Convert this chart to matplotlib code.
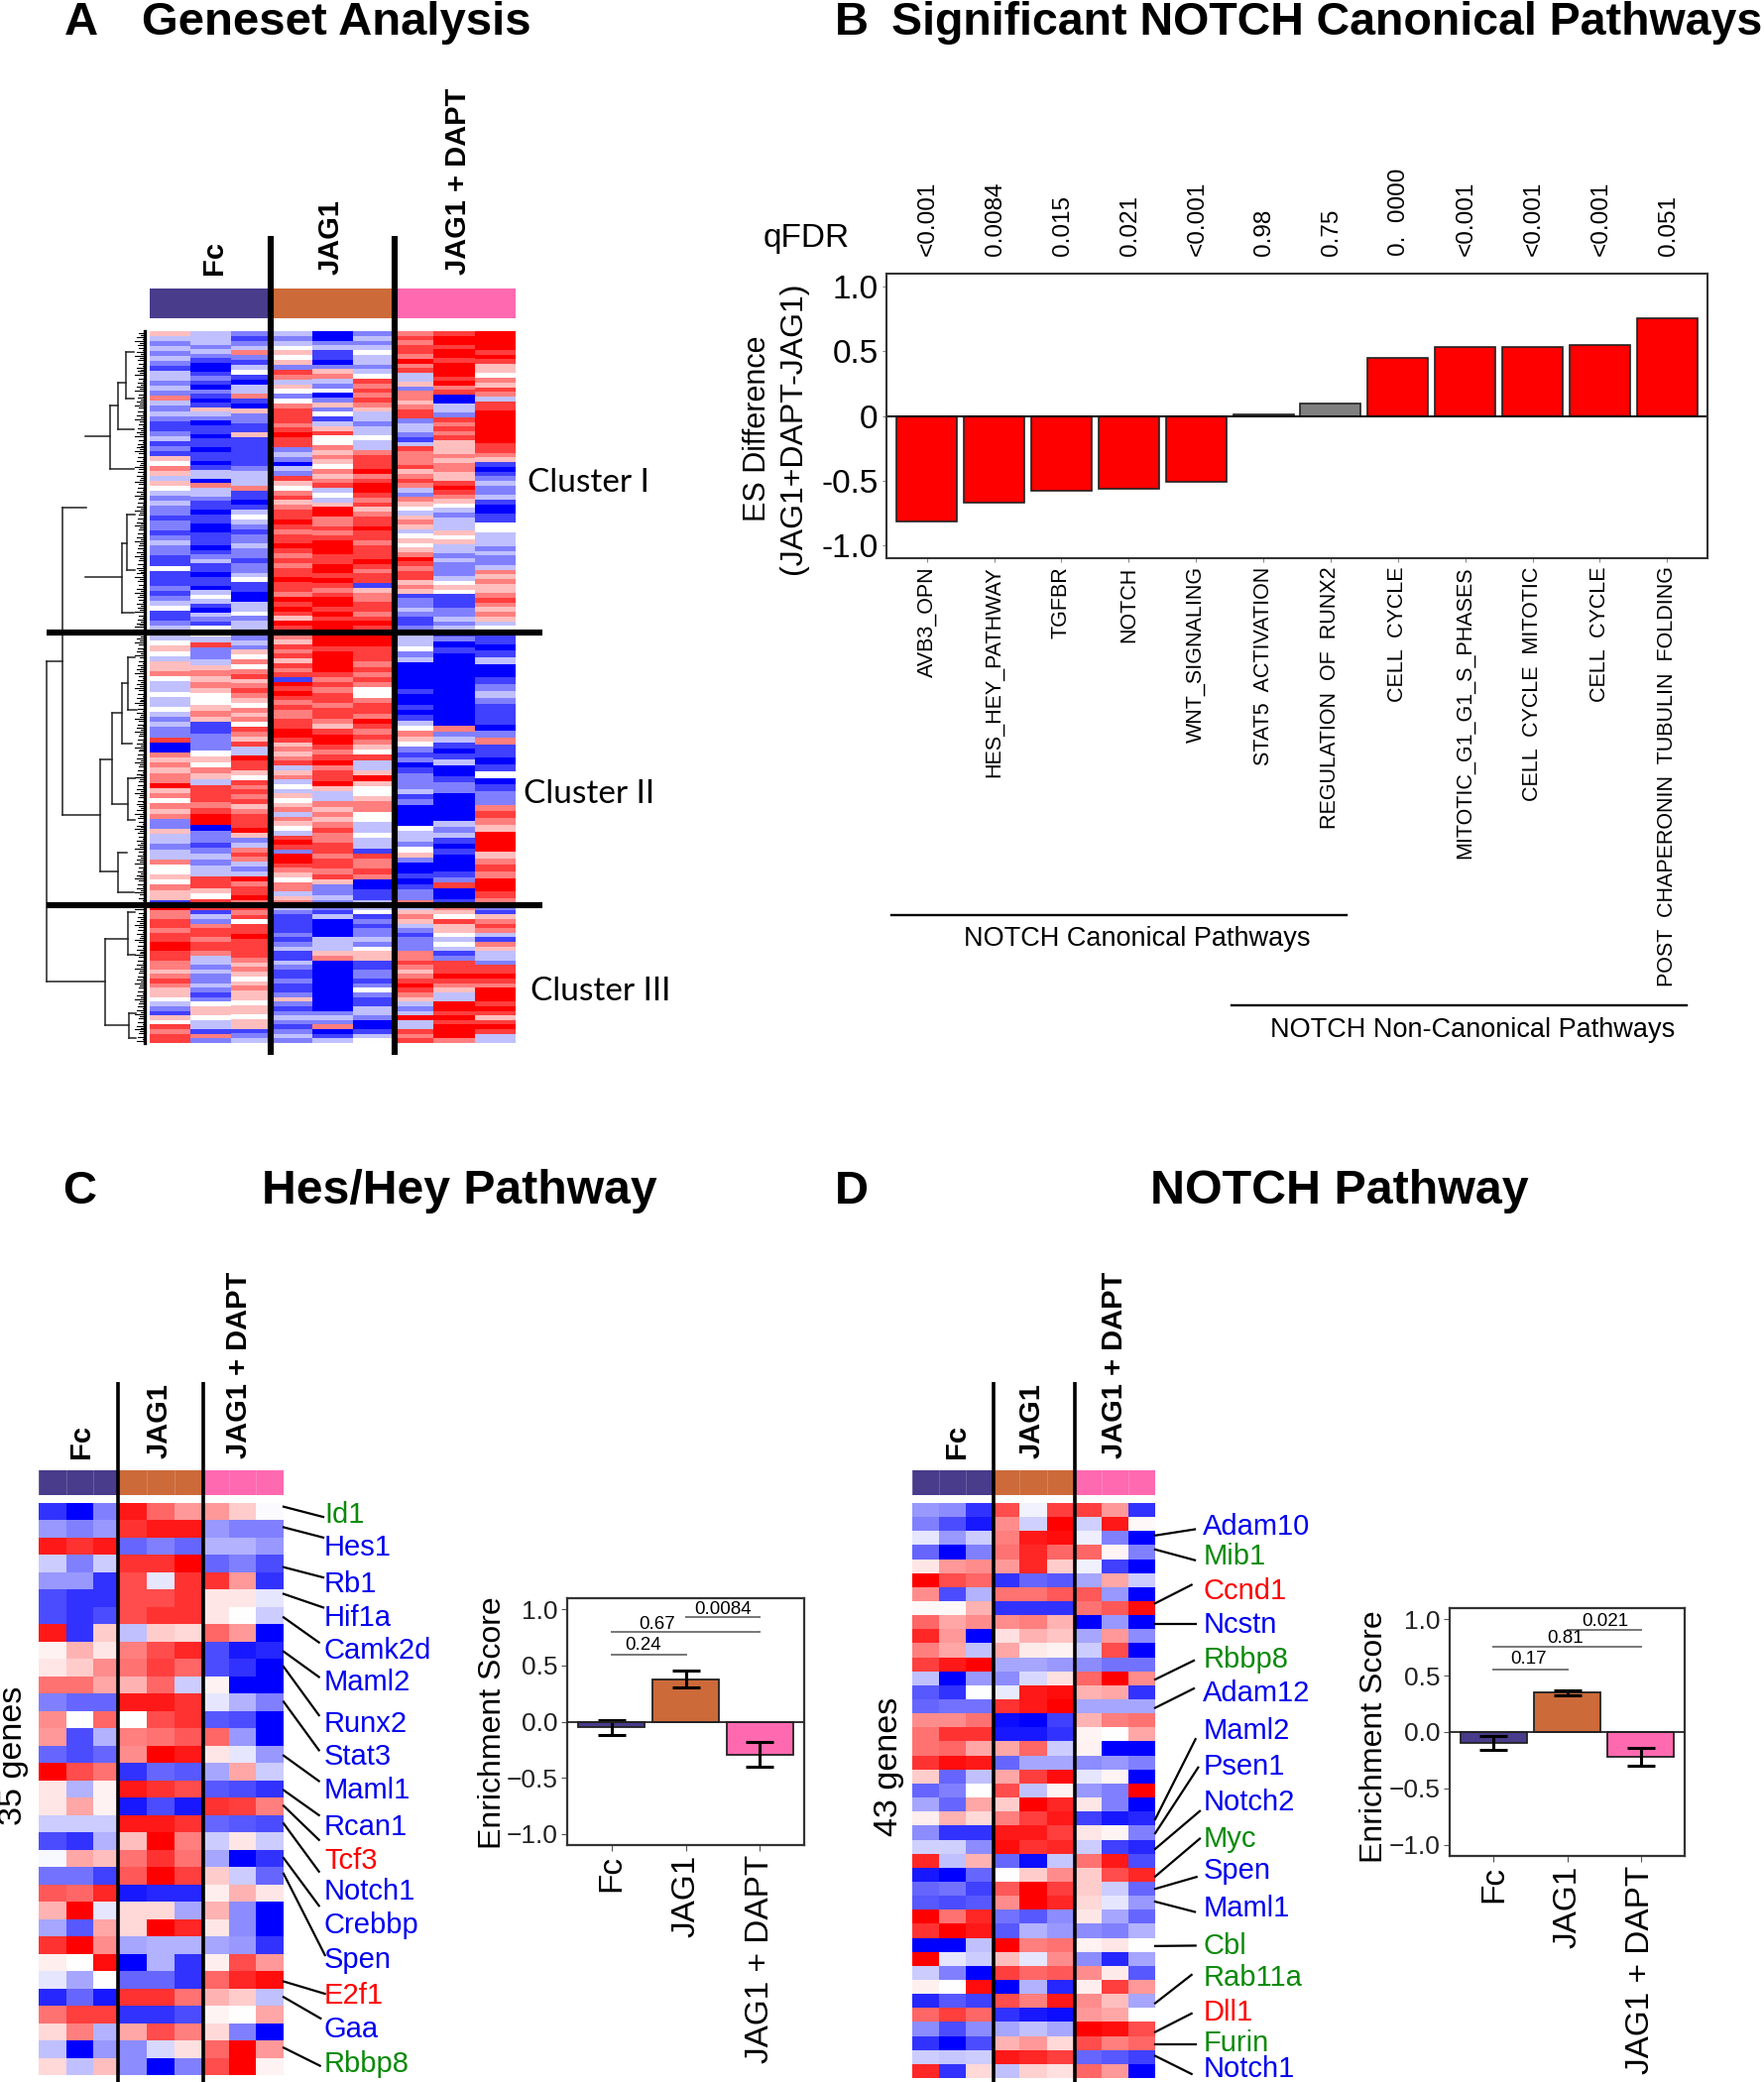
import numpy as np
import matplotlib
matplotlib.use('Agg')
import matplotlib.pyplot as plt

plt.rcParams['font.family'] = ['Liberation Sans', 'DejaVu Sans']

# panel B
pathways = ['AVB3_OPN', 'HES_HEY_PATHWAY', 'TGFBR', 'NOTCH', 'WNT_SIGNALING', 'STAT5  ACTIVATION',
            'REGULATION  OF  RUNX2', 'CELL  CYCLE', 'MITOTIC_G1_G1_S_PHASES', 'CELL  CYCLE  MITOTIC',
            'CELL  CYCLE', 'POST  CHAPERONIN  TUBULIN  FOLDING']
es_diff = [-0.816, -0.673, -0.579, -0.566, -0.51, 0.015, 0.094, 0.449, 0.53, 0.536, 0.551, 0.755]
qfdr = ['<0.001', '0.0084', '0.015', '0.021', '<0.001', '0.98', '0.75', '0.  0000', '<0.001', '<0.001', '<0.001', '0.051']
significant = [1, 1, 1, 1, 1, 0, 0, 1, 1, 1, 1, 1]

# enrichment bars
groups = ['Fc', 'JAG1', 'JAG1 + DAPT']
group_colors = ['#483C8B', '#CC6A3A', '#FF69B0']
es_c = [-0.053, 0.379, -0.293]
err_c = [0.064, 0.077, 0.11]
pvals_c = ['0.24', '0.67', '0.0084']
es_d = [-0.095, 0.35, -0.222]
err_d = [0.06, 0.022, 0.078]
pvals_d = ['0.17', '0.81', '0.021']

# panel A, one string per column, 0 = full blue, 4 = white, 8 = full red
cluster1 = [
    '532323213323263232112312154653543232212212322114111212341123',
    '3332321001210210153201101101101330633211011001110123110110343103214',
    '21236213410336105221151111112333611013432122322122341100334233',
    '32345452763542467776787723203275467567787677876767787768787587',
    '002311025632402524135744656546567343588667678887788787678878788',
    '232343323476767653323343367778678876756778776777876771566776787',
    '67677686733526656772332137666756763265435653454568767756512232112',
    '788788788878670033276767555656655787654323335453323222345411122323',
    '8888787554657637788888887765101232231001144333232236565567656534',
]
cluster2 = [
    '334543556433433432322700656566856465622533233644546551',
    '437223565654456511222454653777678802212323377547',
    '323254646756765465647657338775476767567778523676323867786',
    '76576757671878767667788756567356343545636543787288765466356',
    '78878888767677677657887678677853365656766776776752232',
    '88877767676446776876765473358544566443343317667600113',
    '2334230000010010134654212012223120000433245200101226',
    '1201000000000000062310130012200000323101000127001',
    '11013001232111026110140122676588856768876',
]
cluster3 = [
    '866776778877665676554321547677',
    '713267767763323223212455433162',
    '76747787777656545655455455123',
    '321111212311321121125212321232',
    '213000033356000000000002326013',
    '341212232455112212421133200134',
    '356532122266765678765323833767',
    '654755434312777876533887878886',
    '215676316533277876888787578733',
]
leaf_depth = '5372846152738461527364815263748152637485162738415263748152637485162734851627348516273845162738451627384516273845162738451627'

# dendrogram of panel A, on its own pixel scale: (x0, x1, y) joins and (x, y0, y1) stems
dend_h = [(47, 63, 667), (47, 106, 990), (63, 87, 512), (63, 101, 822), (86, 111, 440), (86, 123, 582),
          (111, 119, 409), (111, 135, 473), (119, 127, 386), (119, 135, 433), (127, 135, 355), (127, 135, 402),
          (123, 128, 548), (123, 135, 618), (128, 136, 519), (128, 136, 575),
          (101, 113, 766), (101, 119, 879), (113, 123, 719), (113, 129, 811), (123, 129, 689), (123, 133, 750),
          (129, 136, 663), (129, 138, 716), (129, 136, 785), (129, 136, 827), (119, 128, 860), (119, 135, 900),
          (106, 129, 947), (106, 130, 1034), (129, 136, 920), (129, 136, 963), (130, 137, 1022), (130, 137, 1047)]
dend_v = [(47, 667, 990), (63, 512, 822), (101, 766, 879), (111, 409, 473), (119, 386, 433), (127, 355, 402),
          (123, 548, 618), (128, 519, 575), (113, 719, 811), (123, 689, 750), (129, 663, 716), (129, 785, 827),
          (119, 860, 900), (106, 947, 1034), (129, 920, 963), (130, 1022, 1047)]

# panel C, tenths of the colour scale
heat_c = [
    [-8, -10, -5, 9, 6, 4, 4, 2, -0.2], [-4, -5, -4, 8, 9, 9, -4, -5, -5], [9, 8, 9, -6, -5, -6, -3, -3, -4],
    [-2, -5, -2, 8, 8, 10, -6, -5, -7], [-4, -4, -8, 7, -1, 8, 8, 4, -8], [-7, -8, -8, 7, 7, 8, 1, 1, -1],
    [-7, -8, -7, 7, 8, 8, 1, 0, -2], [9, -8, 2, -2.5, 2, 1.5, 6, 4, -10], [0.5, 3, 1, 5, 7, 8.5, -7, -9, -8.5],
    [1, 2, 4.5, 5.5, 7.5, 6, -7, -8, -10], [5.5, 5.5, 3.5, 3, 6, -2, 0.5, -10, -10], [-5, -6, -6, 9, 9, 8, -1, -3, -5],
    [4.5, 0, 6, 0, 7, 8, -6.5, -7, -10], [4, -7, -3, 5, 5.5, 6.5, 6, -4, -10], [-6, -7, -6, 4.5, 10, 9, 1, -1, -4],
    [10, 7, 5.5, -8, -6, -6.5, -3.5, 3.5, -2], [1, -3, 0.5, 9, 8, 7, -6.5, -7, -8], [1, 3.5, 0.5, -9, -7, -9, 8, 7.5, 5],
    [-2, -2, -2, 9, 9, 8, -6, -6.5, -7], [-7, -8, -3, 2.5, 10, 5, -2, 1, -2], [-0.3, 3.5, 2.5, 5.5, 8, 5.5, -3.5, -10, -8],
    [-5.5, -5.5, -7.5, 6.5, 10, 7.5, 2, -2, -6], [6.5, 6, 8.5, -9, -8.5, -8.5, 0.7, 3, 1], [3, 10, -1, 1.5, 1.5, -3.5, 3, -4.5, -10],
    [-3.5, -6.5, 3.5, 1.5, 10, 8.5, 1, -4.5, -10], [8, 10, 4.5, -3.5, -3, -3, -3.5, -4, -8], [0.7, 0, 9.5, -10, -3, -8, 0.7, 7, 4],
    [-1, -3.5, 0, -6, -6, -8, 6, 8.5, 9.5], [-8.5, -6, -9, 8, 8, 5.5, 3, 2, -2.5], [5.5, 7.5, 7.5, -8, -8, -7, 0.4, 0, 3.5],
    [1.5, 5, -3, 3.5, 7, 5, 1.5, -5, -10], [-2.5, -10, -4, -4.5, -1.5, 1.2, 6, 10, 4], [1.5, -2.5, 2.5, -4.5, -10, -5, 7, 10, 0.5],
]
# panel D
heat_d = [
    [-4, -4.5, -8, 7, -0.5, 7.5, 7.5, 4, -8], [-5, -7, -9, 4.5, -1.8, 10, -1.8, 9, 0.3], [-1, -4, -2, 5, 9, 9.5, -0.7, -5, -10],
    [-6, -10, -5, 5.5, 8.5, 6, 6, 0.4, -5], [1, 4, 4.5, 4, 8.5, 2, -0.6, -7.5, -10], [10, 7, 6, -8, -6, -6.5, -3.5, 3.5, -2],
    [4.5, -7, -3, 5.5, 5.5, 6.5, 6.5, -4, -10], [0.3, 0.3, 3, -8, -8, -8, 5.5, 6.5, 9.5], [6, 3.5, 4.5, 4.5, 5, 3, -10, -4, -10],
    [8.5, 4, -10, 1.2, 3, 2.3, -3.5, 4, -4.5], [5, 3.5, -2.5, 3.5, 0.8, 0.5, -2, 7, -10], [7.5, 9, 10, -3.5, -3.5, -4, -4.5, -5.5, -5.5],
    [-2.5, -10, -4, -4.5, -1.5, 1.2, 6, 10, 4.5], [-6.5, -8, 0, -0.8, 9, 9.5, 3, 3.5, -8], [-6, -5.5, -5.5, 8, 9, 10, -3.5, -3.5, -3.5],
    [4.5, 4.5, 5.5, -9.5, -10, -7.5, 3, 5, 5.5], [5.5, 8, 8, -9, -9, -8, 0.4, 0, 3.5], [5.5, 6, 3.5, 3.5, 6, -2, 0.5, -10, -10],
    [8, 9.5, 9, -6, -3.5, -3.5, -4.5, -4, -5], [2, -6, -2.5, 3.5, 7.5, 9.5, -1, 0.4, -10], [-6, -5, 0, 7, -2.5, 0.5, -4, -5, 10],
    [-3.5, -6, 3.5, 2, 10, 8.5, 1, -5, -10], [0.7, 3, 1.5, 5, 7.5, 9, -7.5, -9, -8.5], [-4.5, -8, -8, 9, 9, 7.5, 1, 0.4, -5],
    [-1.8, -1.8, -4.5, 9.5, 8, 8.5, -2, -7.5, -8.5], [8.5, -2.5, 3, -6, -9.5, -2.2, 5.5, 9, -7], [-9, -10, -6, 0, 2, 4.5, 2, 7, 8.5],
    [-6, -5.5, -7.5, 6.5, 10, 7.5, 2, -2, -6], [-6.5, -7, -6.5, 4.5, 10, 8.5, 1.5, -1, -4], [10, 5.5, 8.5, -5.5, -6.5, -4.5, 1, -3.5, -6],
    [8, 10, 9, -6.5, -3, -4, -4.5, -5, -3], [-10, -10, -2.5, 10, 5, 5.5, 0.5, 1, 0], [10, -1, -2, 2.5, -1, 4.5, -4.5, -8.5, -3.5],
    [-2, -5, -10, 7.5, 6, 6.5, 4.5, 0.8, -6.5], [0.6, 0, 9.5, -10, -3, -8.5, 0.7, 7.5, 4], [-8.5, -6.5, -7.5, 7, 5, 9, 4.5, 2.5, -3.5],
    [6, 7.5, 6, -8, -9, -9.5, 4, 3.5, 0], [-4.5, -7, -4.5, -3.5, -2.5, -3.5, 10, 9.5, 7], [-8, -10, -7, 3, 4, 1.5, 7, 5, 6],
    [-2, -2.2, -2, 9, 8.5, 7.5, -6, -6.5, -7.5], [8.5, -8, 1.5, -2.5, 1.8, 1.2, 6, 4, -10],
]

genes_c = ['Id1', 'Hes1', 'Rb1', 'Hif1a', 'Camk2d', 'Maml2', 'Runx2', 'Stat3', 'Maml1', 'Rcan1', 'Tcf3', 'Notch1',
           'Crebbp', 'Spen', 'E2f1', 'Gaa', 'Rbbp8']
gene_col_c = 'gbbbbbbbbbrbbbrbg'
genes_d = ['Adam10', 'Mib1', 'Ccnd1', 'Ncstn', 'Rbbp8', 'Adam12', 'Maml2', 'Psen1', 'Notch2', 'Myc', 'Spen', 'Maml1',
           'Cbl', 'Rab11a', 'Dll1', 'Furin', 'Notch1']
gene_col_d = 'bgrbgbbbbgbbggrgb'
COLS = {'g': '#0A8A0A', 'b': '#0000F0', 'r': '#FF0000'}

W, H = 1779, 2100
fig = plt.figure(figsize=(W / 100, H / 100), dpi=100)


def px_axes(left, top, right, bottom, z=1):
    return fig.add_axes([left / W, 1 - bottom / H, (right - left) / W, (bottom - top) / H], zorder=z)


# everything that is not a chart sits on this overlay, in picture pixels
ov = fig.add_axes([0, 0, 1, 1], zorder=5)
ov.set_xlim(0, W)
ov.set_ylim(H, 0)
ov.axis('off')


def strips(ax, edges, y0, y1, columns):
    for i, col in enumerate(columns):
        vals = np.array([(int(c) - 4) / 4 for c in col])[:, None]
        ax.pcolormesh(edges[i:i + 2], np.linspace(y0, y1, len(vals) + 1), vals, cmap='bwr', vmin=-1, vmax=1)


def heat_panel(rows, edges, top, bottom):
    ax = px_axes(edges[0], top, edges[-1], bottom)
    ax.pcolormesh(edges, np.linspace(top, bottom, len(rows) + 1), np.array(rows), cmap='bwr', vmin=-10, vmax=10)
    ax.set_ylim(bottom, top)
    ax.axis('off')


def colour_bar(edges, top, bottom, cells=False):
    for g in range(3):
        ov.fill_between(edges[g * 3:g * 3 + 4], top, bottom, color=group_colors[g], lw=0, zorder=1)
    if cells:
        for x in edges:
            ov.plot([x, x], [top, bottom], color='white', lw=0.5, alpha=0.25, zorder=1)


def group_titles(xs, bottom):
    for x, name in zip(xs, groups):
        ov.text(x, bottom, name, rotation=90, ha='center', va='bottom', fontsize=21, fontweight='bold')


def gene_labels(genes, cols, text_x, text_y, x0, y0s, x1s, y1s):
    for i, g in enumerate(genes):
        ov.text(text_x[i], min(text_y[i] + 2.5, 2087), g, color=COLS[cols[i]], fontsize=21, va='center', ha='left')
        ov.plot([x0, x1s[i]], [y0s[i], y1s[i]], color='black', lw=1.6, zorder=3)


def enrich_bars(box, es, err, pvals, line_y, text_pos):
    ax = px_axes(*box, z=2)
    xpos = [1, 2, 3]
    ax.bar(xpos, es, width=0.9, color=group_colors, edgecolor='#222222', lw=1.3, zorder=2)
    ax.errorbar(xpos, es, yerr=err, fmt='none', ecolor='black', elinewidth=2.2, capsize=10, capthick=2.2, zorder=3)
    ax.axhline(0, color='#222222', lw=1.3, zorder=3)
    ax.set_xlim(0.4, 3.6)
    ax.set_ylim(-1.1, 1.1)
    spans = [(1, 2), (1, 3), (2, 3)]
    for (a, b), ly, p, (tx, ty) in zip(spans, line_y, pvals, text_pos):
        ax.plot([a, b], [ly, ly], color='#777777', lw=1.4)
        ax.text(tx, ty, p, ha='center', va='center', fontsize=13.5)
    ax.set_xticks(xpos)
    ax.set_xticklabels(groups, rotation=90, fontsize=24)
    ax.set_yticks([-1, -0.5, 0, 0.5, 1])
    ax.set_yticklabels(['\u22121.0', '\u22120.5', '0.0', '0.5', '1.0'], fontsize=19, color='#222222')
    ax.tick_params(axis='both', length=4, color='#555555', pad=3)
    for s in ax.spines.values():
        s.set_color('#333333')
        s.set_linewidth(1.6)
    return ax


# ---- panel A
a_edges = [151, 192, 233, 273, 315, 356, 398, 437, 479, 520]
axa = px_axes(151, 334, 520, 1052)
strips(axa, a_edges, 334, 636, cluster1)
strips(axa, a_edges, 636, 913, cluster2)
strips(axa, a_edges, 913, 1052, cluster3)
axa.set_xlim(151, 520)
axa.set_ylim(1052, 334)
axa.axis('off')

colour_bar(a_edges, 291, 321)
for x in [273, 398]:
    ov.plot([x, x], [238, 1064], color='black', lw=4.4, solid_capstyle='butt', zorder=4)
for y in [638, 913]:
    ov.plot([47, 547], [y, y], color='black', lw=4.4, solid_capstyle='butt', zorder=4)
for x0, x1, y in dend_h:
    ov.plot([x0, x1], [y, y], color='#222222', lw=1.1, zorder=2)
for x, y0, y1 in dend_v:
    ov.plot([x, x], [y0, y1], color='#222222', lw=1.1, zorder=2)
# ragged leaves next to the heatmap
leaf_all = leaf_depth * 3
leaf_y = np.linspace(336, 1050, len(leaf_all))
for d, y in zip(leaf_all, leaf_y):
    ov.plot([146 - int(d) * 1.2, 146], [y, y], color='black', lw=0.8, zorder=2)
ov.plot([146, 146], [334, 1052], color='black', lw=2.4, zorder=2)

group_titles([216, 334, 462], 277)
ov.text(532, 487, 'Cluster I', family='Lato', fontsize=24, va='center')
ov.text(528, 801, 'Cluster II', family='Lato', fontsize=24, va='center')
ov.text(535, 1000, 'Cluster III', family='Lato', fontsize=24, va='center')

# ---- panel B
axb = px_axes(894, 276, 1722, 563, z=2)
xb = np.arange(1, 13)
bar_cols = ['#FF0000' if s else '#7F7F7F' for s in significant]
axb.bar(xb, es_diff, width=0.9, color=bar_cols, edgecolor='#222222', lw=1.2)
axb.axhline(0, color='black', lw=1.4)
axb.set_xlim(0.4, 12.6)
axb.set_ylim(-1.1, 1.1)
axb.set_xticks(xb)
axb.set_xticklabels(pathways, rotation=90, fontsize=15.5)
axb.set_yticks([-1, -0.5, 0, 0.5, 1])
axb.set_yticklabels(['-1.0', '-0.5', '0', '0.5', '1.0'], fontsize=24)
axb.tick_params(axis='both', length=3, color='#888888', pad=3)
for s in axb.spines.values():
    s.set_color('#333333')
    s.set_linewidth(1.5)
for x, q in zip(xb, qfdr):
    axb.annotate(q, (x, 1), xycoords=('data', 'axes fraction'), xytext=(1, 13), textcoords='offset points',
                 rotation=90, ha='center', va='bottom', fontsize=17.5)
ov.text(813, 241, 'qFDR', fontsize=24, ha='center', va='center')
ov.text(764, 432, 'ES Difference', rotation=90, ha='center', va='center', fontsize=22)
ov.text(800, 432, '(JAG1+DAPT-JAG1)', rotation=90, ha='center', va='center', fontsize=23)
ov.plot([899, 1358], [923, 923], color='black', lw=1.7)
ov.text(1147, 947, 'NOTCH Canonical Pathways', ha='center', va='center', fontsize=19.5)
ov.plot([1242, 1701], [1014, 1014], color='black', lw=1.7)
ov.text(1485, 1039, 'NOTCH Non-Canonical Pathways', ha='center', va='center', fontsize=19.5)

# ---- panel C
c_edges = [39, 66.7, 93.7, 119, 148, 176, 205, 231, 258, 286]
heat_panel(heat_c, c_edges, 1515.5, 2093)
colour_bar(c_edges, 1483, 1508, cells=True)
for x in [119, 205]:
    ov.plot([x, x], [1394, 2100], color='black', lw=2.6, solid_capstyle='butt', zorder=4)
group_titles([82, 161, 241], 1471)
ov.text(14, 1771, '35 genes', rotation=90, fontsize=24.5, ha='center', va='center')
cy = [183, 262, 350, 433, 513, 590, 690, 770, 853, 940, 1022, 1097, 1180, 1265, 1350, 1432, 1518]
c_y0 = [168, 218, 315, 380, 437, 520, 557, 642, 773, 857, 895, 938, 1022, 1060, 1322, 1360, 1483]
c_x1 = [978, 978, 978, 978, 965, 965, 965, 965, 965, 965, 965, 965, 965, 983, 983, 970, 968]
c_y1 = [193, 243, 340, 413, 498, 582, 675, 760, 835, 918, 978, 1055, 1138, 1258, 1352, 1412, 1527]
to_y = lambda v: [1450 + a / 2.41 for a in v]
gene_labels(genes_c, gene_col_c, [327] * 17, to_y(cy), 286, to_y(c_y0), [a / 3 for a in c_x1], to_y(c_y1))

enrich_bars((572, 1612, 811, 1861), es_c, err_c, pvals_c, [0.598, 0.80, 0.935],
            [(1.43, 0.68), (1.61, 0.87), (2.5, 1.0)])
ov.text(497, 1738, 'Enrichment Score', rotation=90, fontsize=23, ha='center', va='center')

# ---- panel D
d_edges = [920, 947, 974, 1002, 1028, 1056, 1084, 1111, 1138, 1165]
heat_panel(heat_d, d_edges, 1516, 2096)
colour_bar(d_edges, 1483, 1508, cells=True)
for x in [1002, 1084]:
    ov.plot([x, x], [1394, 2100], color='black', lw=2.6, solid_capstyle='butt', zorder=4)
group_titles([965, 1041, 1124], 1471)
ov.text(896, 1782, '43 genes', rotation=90, fontsize=24.5, ha='center', va='center')
dy = [210, 283, 367, 450, 533, 615, 708, 795, 882, 970, 1047, 1138, 1230, 1308, 1392, 1467, 1538]
d_y0 = [238, 272, 403, 452, 588, 657, 928, 962, 1000, 1067, 1097, 1128, 1236, 1375, 1445, 1475, 1503]
d_x1 = [915, 915, 905, 917, 912, 912, 917, 925, 930, 930, 920, 915, 917, 905, 905, 917, 905]
d_y1 = [223, 298, 358, 452, 542, 610, 733, 802, 908, 975, 1068, 1153, 1235, 1306, 1400, 1475, 1547]
gene_labels(genes_d, gene_col_d, [900 + 940 / 3] * 17, to_y(dy), 1165, to_y(d_y0),
            [900 + a / 3 for a in d_x1], to_y(d_y1))

enrich_bars((1462, 1622, 1699, 1872), es_d, err_d, pvals_d, [0.558, 0.757, 0.908],
            [(1.47, 0.645), (1.98, 0.83), (2.52, 0.98)])
ov.text(1386, 1752, 'Enrichment Score', rotation=90, fontsize=23, ha='center', va='center')

# ---- panel letters and titles
heads = [(65, 23, 'A', 34), (143, 23, 'Geneset Analysis', 34), (842, 23, 'B', 34),
         (899, 23, 'Significant NOTCH Canonical Pathways', 33.5), (63, 1202, 'C', 34),
         (264, 1202, 'Hes/Hey Pathway', 34.7), (842, 1202, 'D', 34), (1160, 1202, 'NOTCH Pathway', 34.8)]
for x, y, s, size in heads:
    ov.text(x, y, s, fontsize=size, fontweight='bold', va='center', ha='left')

fig.savefig('out.png', dpi=100, facecolor='white')
